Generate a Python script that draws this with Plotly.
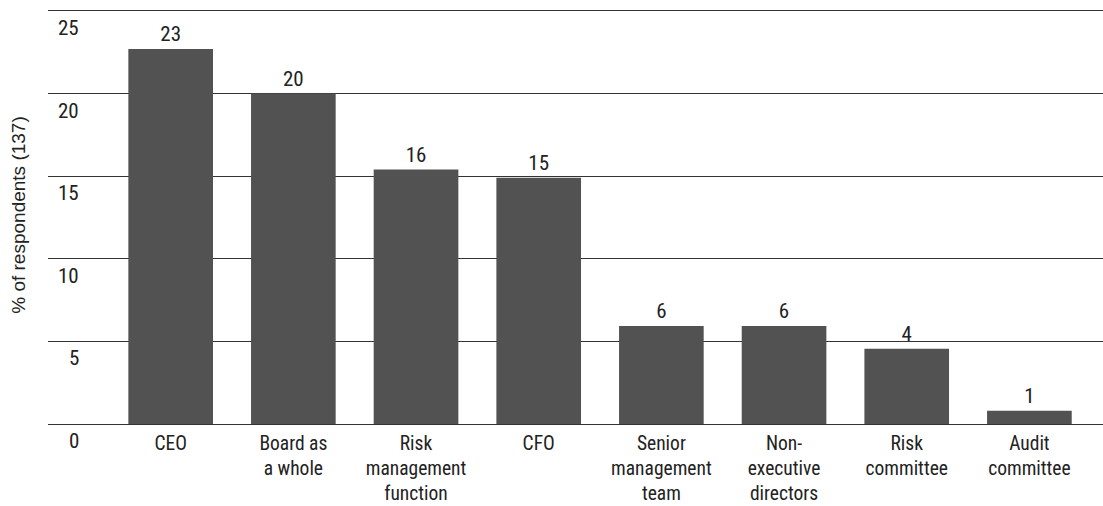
import plotly.graph_objects as go

categories = ["CEO", "Board as<br>a whole", "Risk<br>management<br>function", "CFO",
              "Senior<br>management<br>team", "Non-<br>executive<br>directors",
              "Risk<br>committee", "Audit<br>committee"]
values = [22.7, 20.0, 15.4, 14.9, 5.93, 5.93, 4.56, 0.8]
value_labels = ["23", "20", "16", "15", "6", "6", "4", "1"]
y_ticks = [0, 5, 10, 15, 20, 25]
y_tick_labels = ["0", "5", "10", "15", "20", "25"]
y_title = "% of respondents (137)"

FONT = "Liberation Sans Narrow, Arial Narrow, Roboto Condensed, DejaVu Sans Condensed, sans-serif"
TITLE_FONT = "Liberation Sans, Arial, sans-serif"
TXT = "#222222"

fig = go.Figure()
fig.add_trace(go.Bar(
    x=list(range(len(categories))), y=values,
    marker=dict(color="#525252", line=dict(width=0)),
    text=value_labels, textposition="outside", cliponaxis=False,
    textfont=dict(family=FONT, size=21, color=TXT),
    width=0.69,
))

annotations = []
for v, lab in zip(y_ticks, y_tick_labels):
    annotations.append(dict(x=0, xref="paper", y=v, yref="y", text=lab,
                            xanchor="right", yanchor="top", xshift=33, yshift=-3,
                            showarrow=False,
                            font=dict(family=FONT, size=21, color=TXT)))

fig.update_layout(
    width=1103, height=506,
    margin=dict(l=48, r=0, t=6, b=82),
    plot_bgcolor="white", paper_bgcolor="white",
    showlegend=False,
    annotations=annotations,
    font=dict(family=FONT, size=20, color=TXT),
    xaxis=dict(
        tickmode="array", tickvals=list(range(len(categories))), ticktext=categories,
        range=[-1.0, 7.6], showgrid=False, zeroline=False, showline=False,
        ticks="", tickfont=dict(family=FONT, size=19.5, color=TXT),
        automargin=False, ticklabelstandoff=5,
    ),
    yaxis=dict(
        range=[0, 25.3], tickvals=y_ticks, showticklabels=False,
        showgrid=True, gridcolor="#333333", gridwidth=1.4,
        zeroline=True, zerolinecolor="#333333", zerolinewidth=1.4,
        showline=False, ticks="", automargin=False,
        title=dict(text=y_title, font=dict(family=TITLE_FONT, size=19, color=TXT), standoff=16),
    ),
)

fig.write_html("out.html", config={"displayModeBar": False},
               post_script="document.body.style.margin='0';document.body.style.overflow='hidden';")
